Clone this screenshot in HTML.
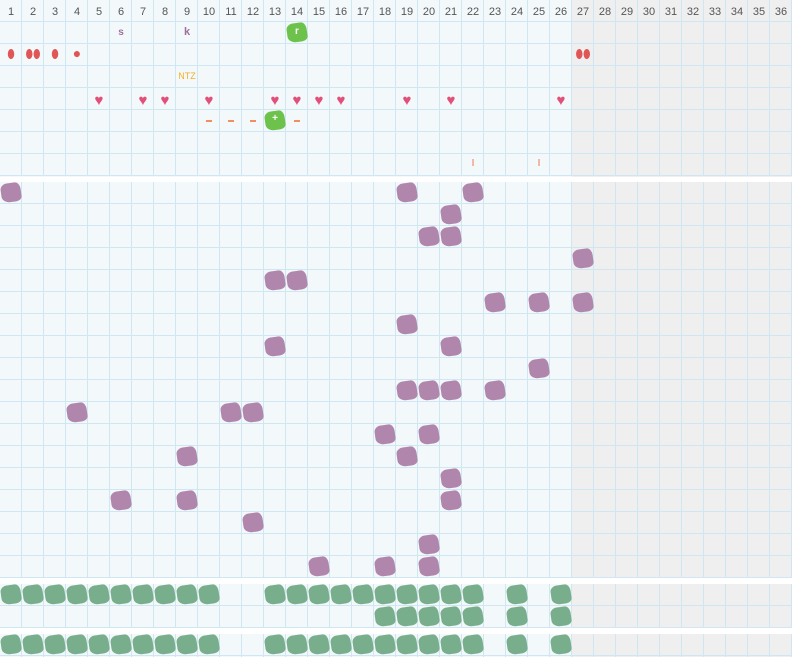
<!DOCTYPE html>
<html><head><meta charset="utf-8"><style>
body{margin:0;width:792px;height:657px;overflow:hidden;background:#fff;font-family:"Liberation Sans",sans-serif;position:relative}
.sec{position:absolute;left:0;width:792px;background:
linear-gradient(to right,transparent 572px,#efefef 572px),#f3f8fa;}
.grid{position:absolute;left:0;width:792px;background-image:
repeating-linear-gradient(to right,transparent 0 21px,#cfe7f2 21px 22px),
repeating-linear-gradient(to bottom,transparent 0 21px,#cfe7f2 21px 22px);}
.h{position:absolute;top:0;width:22px;height:22px;line-height:24px;text-align:center;font-size:11px;color:#555}
.b{position:absolute;width:20px;height:19px;border-radius:35% 25% 30% 40%/30% 40% 25% 35%;transform:rotate(-8deg)}
.p{background:#b086ad}.g{background:#79ae8c}.G{background:#6cc24a}
.t{position:absolute;text-align:center;width:22px}
</style></head><body>
<div class="sec" style="top:0;height:177px"></div>
<div class="grid" style="top:0;height:176px"></div>
<div class="sec" style="top:182px;height:396px"></div>
<div class="grid" style="top:182px;height:396px"></div>
<div class="sec" style="top:584px;height:44px"></div>
<div class="grid" style="top:584px;height:44px"></div>
<div class="sec" style="top:634px;height:23px"></div>
<div class="grid" style="top:634px;height:23px"></div>
<div id="hd"><div class="h" style="left:0">1</div><div class="h" style="left:22px">2</div><div class="h" style="left:44px">3</div><div class="h" style="left:66px">4</div><div class="h" style="left:88px">5</div><div class="h" style="left:110px">6</div><div class="h" style="left:132px">7</div><div class="h" style="left:154px">8</div><div class="h" style="left:176px">9</div><div class="h" style="left:198px">10</div><div class="h" style="left:220px">11</div><div class="h" style="left:242px">12</div><div class="h" style="left:264px">13</div><div class="h" style="left:286px">14</div><div class="h" style="left:308px">15</div><div class="h" style="left:330px">16</div><div class="h" style="left:352px">17</div><div class="h" style="left:374px">18</div><div class="h" style="left:396px">19</div><div class="h" style="left:418px">20</div><div class="h" style="left:440px">21</div><div class="h" style="left:462px">22</div><div class="h" style="left:484px">23</div><div class="h" style="left:506px">24</div><div class="h" style="left:528px">25</div><div class="h" style="left:550px">26</div><div class="h" style="left:572px">27</div><div class="h" style="left:594px">28</div><div class="h" style="left:616px">29</div><div class="h" style="left:638px">30</div><div class="h" style="left:660px">31</div><div class="h" style="left:682px">32</div><div class="h" style="left:704px">33</div><div class="h" style="left:726px">34</div><div class="h" style="left:748px">35</div><div class="h" style="left:770px">36</div></div>
<div class="t" style="left:110px;top:27px;font-size:10px;font-weight:bold;color:#a0709a">s</div>
<div class="t" style="left:176px;top:26px;font-size:11px;font-weight:bold;color:#a0709a">k</div>
<div class="b G" style="left:287px;top:23px"></div><div class="t" style="left:286px;top:26px;font-size:10px;font-weight:bold;color:#fff">r</div>
<div class="t" style="left:0;top:47px;font-size:12px;color:#e05555">⬮</div>
<div class="t" style="left:22px;top:47px;font-size:12px;color:#e05555">⬮⬮</div>
<div class="t" style="left:44px;top:47px;font-size:12px;color:#e05555">⬮</div>
<div class="t" style="left:66px;top:45px;font-size:14px;color:#e05555">●</div>
<div class="t" style="left:572px;top:47px;font-size:12px;color:#e05555">⬮⬮</div>
<div class="t" style="left:176px;top:71px;font-size:9px;color:#f5b020">NTZ</div>
<div class="t" style="left:264px;top:113px;font-size:10px;color:#fff;font-weight:bold;z-index:2">+</div>
<div class="t" style="left:462px;top:158px;font-size:10px;color:#f07050">I</div>
<div class="t" style="left:528px;top:158px;font-size:10px;color:#f07050">I</div>
<div id="o"></div>
<script>
var o=document.getElementById('o'),h='';
function bl(c,y,cl){h+='<div class="b '+cl+'" style="left:'+((c-1)*22+1)+'px;top:'+y+'px"></div>';}
[5,7,8,10,13,14,15,16,19,21,26].forEach(function(c){h+='<div class="t" style="left:'+(c-1)*22+'px;top:93px;font-size:15px;line-height:15px;color:#e0507a">♥</div>';});
[10,11,12,14].forEach(function(c){h+='<div style="position:absolute;left:'+((c-1)*22+8)+'px;top:120px;width:6px;height:2px;background:#f09060"></div>';});
bl(13,111,'G');
var P=[[1,19,22],[21],[20,21],[27],[13,14],[23,25,27],[19],[13,21],[25],[19,20,21,23],[4,11,12],[18,20],[9,19],[21],[6,9,21],[12],[20],[15,18,20]];
P.forEach(function(r,i){r.forEach(function(c){bl(c,183+i*22,'p');});});
var A=[1,2,3,4,5,6,7,8,9,10,13,14,15,16,17,18,19,20,21,22,24,26];
A.forEach(function(c){bl(c,585,'g');bl(c,635,'g');});
[18,19,20,21,22,24,26].forEach(function(c){bl(c,607,'g');});
o.innerHTML=h;
</script>
</body></html>
